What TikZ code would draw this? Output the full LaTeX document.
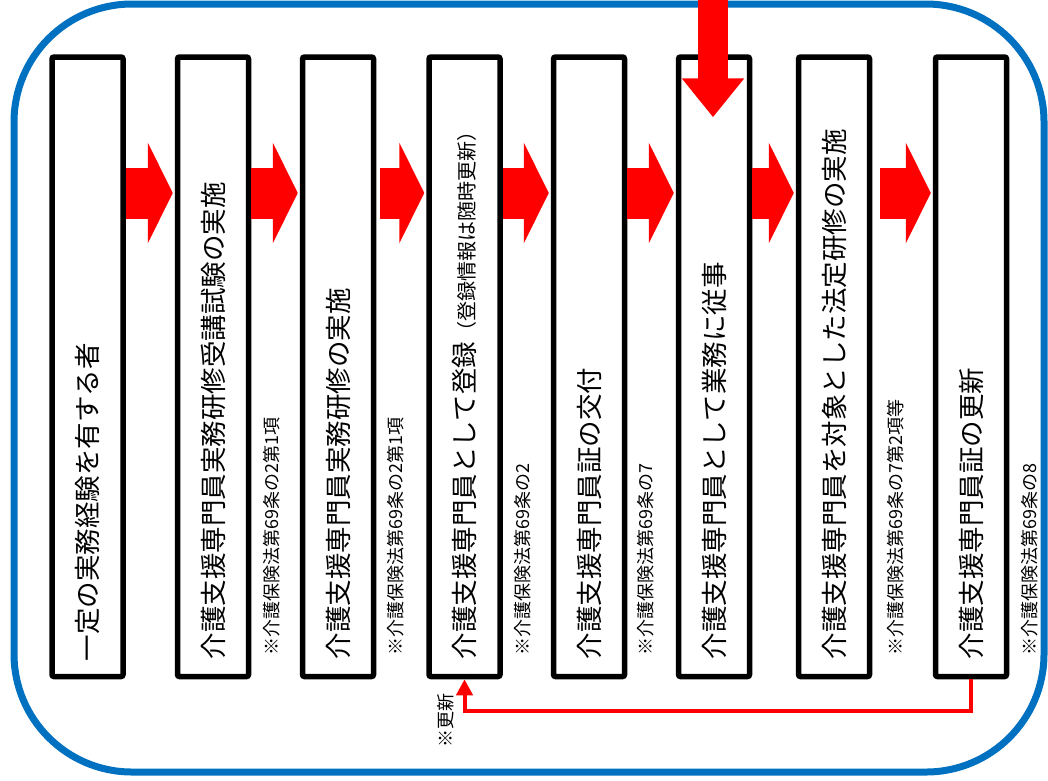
\documentclass[tikz,border=0pt]{standalone}
\usepackage{fontspec}
\setmainfont{Noto Sans CJK JP}
\usetikzlibrary{arrows.meta,calc}
\definecolor{frameblue}{HTML}{0070C0}
\definecolor{flowred}{HTML}{FF0000}
\tikzset{
  stepbox/.style={draw=black, line width=5.5pt, fill=white, rounded corners=2pt,
    minimum width=71pt, minimum height=619.5pt, inner sep=0pt},
  maintext/.style={rotate=90, anchor=west, inner sep=0pt, font=\fontsize{26.5}{30}\selectfont},
  notetext/.style={rotate=90, anchor=west, inner sep=0pt, font=\fontsize{18}{21}\selectfont},
  blockarrow/.style={draw=flowred, line width=51pt, -{Triangle[width=100pt,length=25pt]}},
  toparrow/.style={draw=flowred, line width=30pt, -{Triangle[width=60pt,length=39pt]}},
  fbline/.style={draw=flowred, line width=4pt, line join=miter, -{Triangle[width=16pt,length=16pt]}}
}
\begin{document}
\begin{tikzpicture}[x=1pt,y=-1pt]
\useasboundingbox (0,0) rectangle (1048,780);
% outer frame
\draw[frameblue, line width=7pt, rounded corners=118pt] (14,4) rectangle (1044,772);
% boxes
\node[stepbox] (b1) at (87.5,366.75) {};
\node[stepbox] (b2) at (213,366.75) {};
\node[stepbox] (b3) at (338,366.75) {};
\node[stepbox] (b4) at (464.5,366.75) {};
\node[stepbox] (b5) at (589,366.75) {};
\node[stepbox] (b6) at (714,366.75) {};
\node[stepbox] (b7) at (834,366.75) {};
\node[stepbox] (b8) at (971,366.75) {};
% main texts
\node[maintext] (t1) at ($(b1.south)+(0,-18)$) {一定の実務経験を有する者};
\node[maintext] (t2) at ($(b2.south)+(0,-20)$) {介護支援専門員実務研修受講試験の実施};
\node[maintext] (t3) at ($(b3.south)+(0,-20)$) {介護支援専門員実務研修の実施};
\node[maintext] (t4) at ($(b4.south)+(0,-20)$) {介護支援専門員として登録{\fontsize{20}{22}\selectfont （登録情報は随時更新）}};
\node[maintext] (t5) at ($(b5.south)+(0,-20)$) {介護支援専門員証の交付};
\node[maintext] (t6) at ($(b6.south)+(0,-20)$) {介護支援専門員として業務に従事};
\node[maintext] (t7) at ($(b7.south)+(0,-20)$) {介護支援専門員を対象とした法定研修の実施};
\node[maintext] (t8) at ($(b8.south)+(0,-20)$) {介護支援専門員証の更新};
% notes
\node[notetext] (n2) at ($(b2.south east)+(20,-24)$) {※介護保険法第69条の2第1項};
\node[notetext] (n3) at ($(b3.south east)+(19,-24)$) {※介護保険法第69条の2第1項};
\node[notetext] (n4) at ($(b4.south east)+(20,-24)$) {※介護保険法第69条の2};
\node[notetext] (n5) at ($(b5.south east)+(18,-24)$) {※介護保険法第69条の7};
\node[notetext] (n7) at ($(b7.south east)+(23,-24)$) {※介護保険法第69条の7第2項等};
\node[notetext] (n8) at ($(b8.south east)+(20,-24)$) {※介護保険法第69条の8};
% block arrows
\coordinate (ay) at (0,193);
\draw[blockarrow] (b1.east |- ay) -- ($(b2.west |- ay)+(-2,0)$);
\draw[blockarrow] (b2.east |- ay) -- ($(b3.west |- ay)+(-2,0)$);
\draw[blockarrow, shorten <=4pt] (b3.east |- ay) -- ($(b4.west |- ay)+(-2,0)$);
\draw[blockarrow] (b4.east |- ay) -- ($(b5.west |- ay)+(-2,0)$);
\draw[blockarrow] (b5.east |- ay) -- ($(b6.west |- ay)+(-2,0)$);
\draw[blockarrow] (b6.east |- ay) -- ($(b7.west |- ay)+(-2,0)$);
\draw[blockarrow, shorten <=8pt] (b7.east |- ay) -- ($(b8.west |- ay)+(-2,0)$);
% arrow from top
\coordinate (topin) at ($(b6.north)+(-1,-60)$);
\draw[toparrow] (topin) -- ($(b6.north)+(-1,63)$);
% renewal feedback
\coordinate (fy) at (0,711);
\draw[fbline] (b8.south) -- (b8.south |- fy) -- (b4.south |- fy) -- (b4.south);
\node[notetext, anchor=center, font=\fontsize{18}{20}\selectfont] (upd) at (446,720) {※更新};
\end{tikzpicture}
\end{document}
